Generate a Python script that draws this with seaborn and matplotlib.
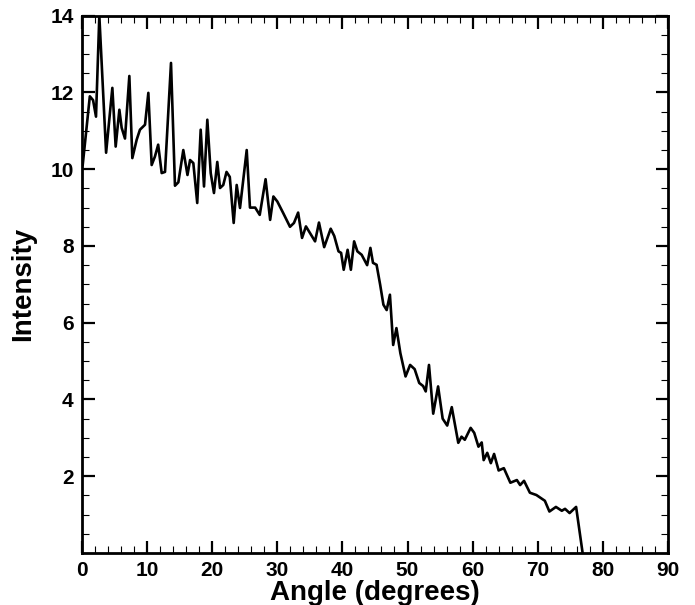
import numpy as np
import pandas as pd
import seaborn as sns
import matplotlib.pyplot as plt
from matplotlib.ticker import MultipleLocator

# Werte
angle = [0.1, 1.2, 1.7, 2.15, 2.66, 3.7, 4.66, 5.17, 5.74, 6.09, 6.6, 7.27, 7.73,
         8.4, 8.9, 9.68, 10.19, 10.7, 11.2, 11.7, 12.24, 12.75, 13.67, 14.28,
         14.8, 15.56, 16.2, 16.6, 17.1, 17.7, 18.23, 18.74, 19.25, 19.77, 20.27,
         20.78, 21.2, 21.7, 22.2, 22.7, 23.3, 23.76, 24.27, 25.3, 25.8, 26.6,
         27.3, 28.2, 28.9, 29.4, 30.0, 30.9, 31.95, 32.56, 33.2, 33.8, 34.4,
         35.8, 36.4, 37.2, 38.2, 38.75, 39.4, 39.8, 40.2, 40.8, 41.3, 41.8,
         42.3, 42.96, 43.8, 44.3, 44.7, 45.25, 45.8, 46.3, 46.8, 47.3, 47.8,
         48.3, 48.9, 49.7, 50.4, 51.1, 51.8, 52.4, 52.8, 53.3, 53.95, 54.7,
         55.4, 56.1, 56.8, 57.8, 58.3, 58.8, 59.7, 60.25, 60.9, 61.4, 61.7,
         62.25, 62.8, 63.3, 64.0, 64.8, 65.8, 66.8, 67.3, 67.9, 68.8, 69.8,
         71.1, 71.8, 72.8, 73.7, 74.2, 74.9, 75.9, 76.9]
intensity = [10.1, 11.9, 11.8, 11.37, 14.0, 10.43, 12.12, 10.59, 11.55, 11.08,
             10.8, 12.43, 10.29, 10.77, 11.03, 11.16, 11.99, 10.11, 10.33, 10.64,
             9.9, 9.93, 12.77, 9.57, 9.66, 10.5, 9.85, 10.24, 10.16, 9.12, 11.03,
             9.55, 11.29, 9.9, 9.38, 10.19, 9.51, 9.59, 9.93, 9.8, 8.6, 9.59,
             8.99, 10.5, 9.0, 9.0, 8.81, 9.74, 8.68, 9.29, 9.16, 8.86, 8.5, 8.6,
             8.87, 8.21, 8.51, 8.12, 8.61, 7.97, 8.45, 8.26, 7.86, 7.82, 7.38,
             7.9, 7.38, 8.12, 7.86, 7.77, 7.5, 7.95, 7.56, 7.51, 6.99, 6.47, 6.33,
             6.73, 5.42, 5.86, 5.21, 4.6, 4.9, 4.79, 4.43, 4.35, 4.21, 4.9, 3.63,
             4.34, 3.5, 3.32, 3.8, 2.87, 3.03, 2.95, 3.26, 3.13, 2.77, 2.88, 2.42,
             2.61, 2.34, 2.58, 2.15, 2.21, 1.83, 1.9, 1.77, 1.88, 1.57, 1.51,
             1.36, 1.08, 1.2, 1.1, 1.15, 1.04, 1.2, 0.0]

xticks = [0, 10, 20, 30, 40, 50, 60, 70, 80, 90]
yticks = [2, 4, 6, 8, 10, 12, 14]

df = pd.DataFrame({"angle": angle, "intensity": intensity})

sns.set_style("ticks")
plt.rcParams["font.family"] = ["Liberation Sans", "DejaVu Sans"]
plt.rcParams["font.weight"] = "bold"
plt.rcParams["text.color"] = "black"
plt.rcParams["axes.labelcolor"] = "black"
plt.rcParams["xtick.color"] = "black"
plt.rcParams["ytick.color"] = "black"

fig = plt.figure(figsize=(6.95, 6.05), dpi=100)
ax = fig.add_axes([0.118, 0.086, 0.843, 0.888])

sns.lineplot(data=df, x="angle", y="intensity", sort=False, color="black",
             linewidth=1.9, ax=ax)

ax.set_xlim(0, 90)
ax.set_ylim(0, 14)
ax.set_xticks(xticks)
ax.set_yticks(yticks)
ax.xaxis.set_minor_locator(MultipleLocator(2))
ax.yaxis.set_minor_locator(MultipleLocator(0.5))
ax.tick_params(which="major", direction="in", length=9, width=1.6,
               top=True, right=True, labelsize=15, pad=6, colors="black")
ax.tick_params(which="minor", direction="in", length=5, width=0.8,
               top=True, right=True, colors="black")
for lab in ax.get_xticklabels() + ax.get_yticklabels():
    lab.set_fontweight("bold")

for s in ax.spines.values():
    s.set_linewidth(2.0)
    s.set_color("black")

ax.set_xlabel("Angle (degrees)", fontsize=20, fontweight="bold", labelpad=0,
              color="black")
ax.set_ylabel("Intensity", fontsize=20, fontweight="bold", labelpad=10,
              color="black")

fig.savefig("out.png", dpi=100)
